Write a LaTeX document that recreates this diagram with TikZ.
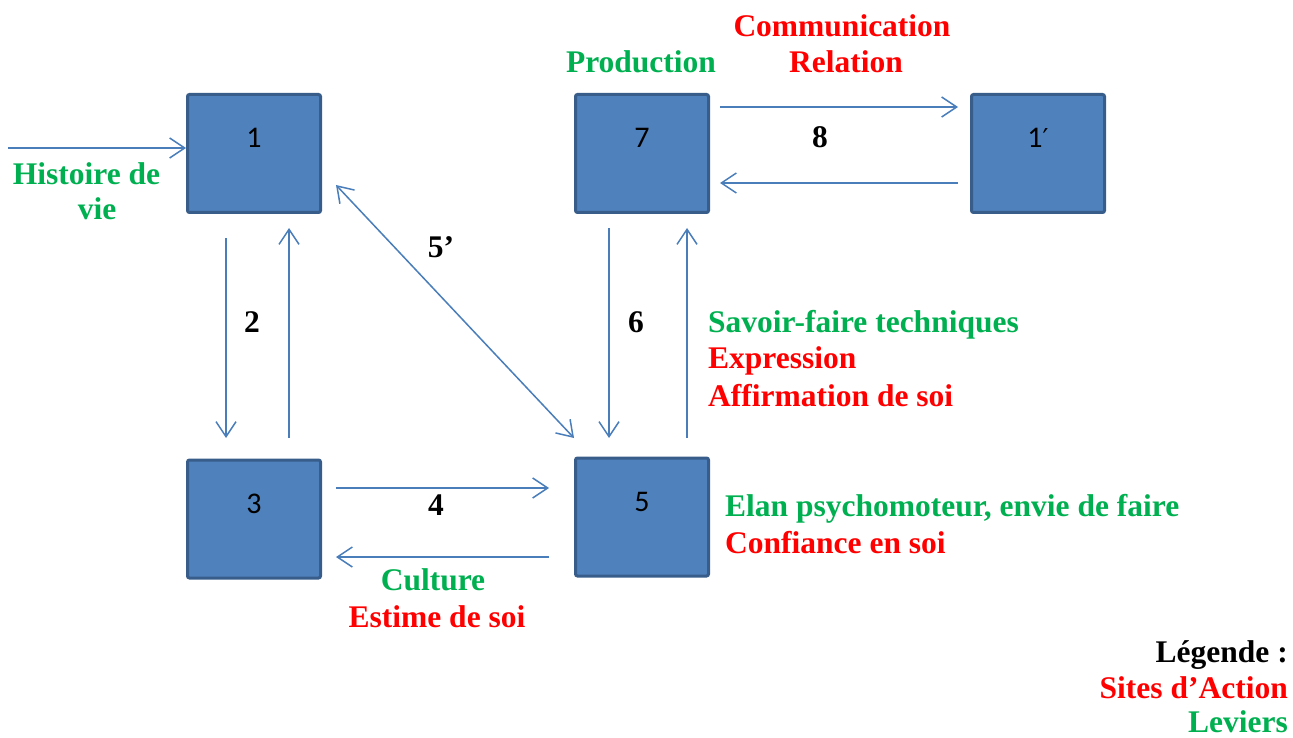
\documentclass[tikz,border=0pt]{standalone}
\usepackage{fontspec}
\setmainfont{Liberation Serif}
\newfontfamily\boxfont{Carlito}
\newfontfamily\primefont{DejaVu Sans}
\usetikzlibrary{arrows.meta,calc}
\definecolor{boxfill}{HTML}{4F81BD}
\definecolor{boxline}{HTML}{385D8A}
\definecolor{arrblue}{HTML}{4A7EBB}
\definecolor{levgreen}{HTML}{00B050}
\definecolor{sitered}{HTML}{FF0000}
\tikzset{
  site/.style={draw=boxline, fill=boxfill, line width=3pt, rounded corners=2pt,
    minimum width=133pt, minimum height=118pt, inner sep=0pt},
  num/.style={anchor=base, font=\boxfont\fontsize{30}{34}\selectfont, inner sep=0pt},
  lbl/.style={font=\bfseries\fontsize{31.5}{37}\selectfont, inner sep=0pt},
  lev/.style={lbl, text=levgreen},
  act/.style={lbl, text=sitered},
  arr/.style={draw=arrblue, line width=1.5pt, -{Straight Barb[length=15pt,width=20pt]}},
  darr/.style={draw=arrblue, line width=1.5pt, {Straight Barb[length=15pt,width=20pt]}-{Straight Barb[length=15pt,width=20pt]}},
}
\begin{document}
\begin{tikzpicture}[x=1pt,y=-1pt]
\useasboundingbox (0,0) rectangle (1293,738);
% boxes
\node[site] (b1) at (254,153.5) {};
\node[site] (b7) at (642,153.5) {};
\node[site] (b1p) at (1038,153.5) {};
\node[site] (b3) at (254,519) {};
\node[site] (b5) at (642,517) {};
\node[num] (n1) at (254,148) {1};
\node[num] (n7) at (642,148) {7};
\node[num] (n1p) at (1038,148) {1{\primefont\fontsize{26}{30}\selectfont ′}};
\node[num] (n3) at (254,513) {3};
\node[num] (n5) at (642,511) {5};
% free ends
\coordinate (hs) at (8,148);
\coordinate (a2s) at (226,238); \coordinate (a2e) at (226,438);
\coordinate (b2s) at (289,438); \coordinate (b2e) at (289,228);
\coordinate (c5s) at (336,185); \coordinate (c5e) at (574,438);
\coordinate (a8s) at (720,107); \coordinate (a8e) at (958,107);
\coordinate (b8s) at (958,183); \coordinate (b8e) at (720,183);
\coordinate (a4s) at (336,488); \coordinate (a4e) at (549,488);
\coordinate (b4s) at (549,557); \coordinate (b4e) at (336,557);
\coordinate (a6s) at (609,228); \coordinate (a6e) at (609,438);
\coordinate (b6s) at (687,438); \coordinate (b6e) at (687,228);
% arrows
\draw[arr] (hs) -- (hs -| b1.west);
\draw[arr] (a2s) -- (a2e);
\draw[arr] (b2s) -- (b2e);
\draw[darr] (c5s) -- (c5e);
\draw[arr] (a8s) -- (a8e);
\draw[arr] (b8s) -- (b8e);
\draw[arr] (a4s) -- (a4e);
\draw[arr] (b4s) -- (b4e);
\draw[arr] (a6s) -- (a6e);
\draw[arr] (b6s) -- (b6e);
% number labels
\node[lbl, anchor=base] (l2) at (252,332) {2};
\node[lbl, anchor=base] (l5p) at (441,258) {5’};
\node[lbl, anchor=base] (l6) at (636,332) {6};
\node[lbl, anchor=base] (l8) at (820,148) {8};
\node[lbl, anchor=base] (l4) at (436,515) {4};
% texts
\node[lev, anchor=base] (t1) at (86.5,185) {Histoire de};
\node[lev, anchor=base] (t2) at (97,220) {vie};
\node[lev, anchor=base] (t3) at (641,73) {Production};
\node[act, anchor=base] (t4) at (842,37) {Communication};
\node[act, anchor=base] (t5) at (846,73) {Relation};
\node[lev, anchor=base west] (t6) at (708,332) {Savoir-faire techniques};
\node[act, anchor=base west] (t7) at (708,368) {Expression};
\node[act, anchor=base west] (t8) at (708,406) {Affirmation de soi};
\node[lev, anchor=base west] (t9) at (725,516) {Elan psychomoteur, envie de faire};
\node[act, anchor=base west] (t10) at (725,553) {Confiance en soi};
\node[lev, anchor=base] (t11) at (433,590) {Culture};
\node[act, anchor=base] (t12) at (437,627) {Estime de soi};
\node[lbl, anchor=base east] (g1) at (1288,662) {Légende :};
\node[act, anchor=base east] (g2) at (1288,698) {Sites d’Action};
\node[lev, anchor=base east] (g3) at (1288,732) {Leviers};
\end{tikzpicture}
\end{document}
